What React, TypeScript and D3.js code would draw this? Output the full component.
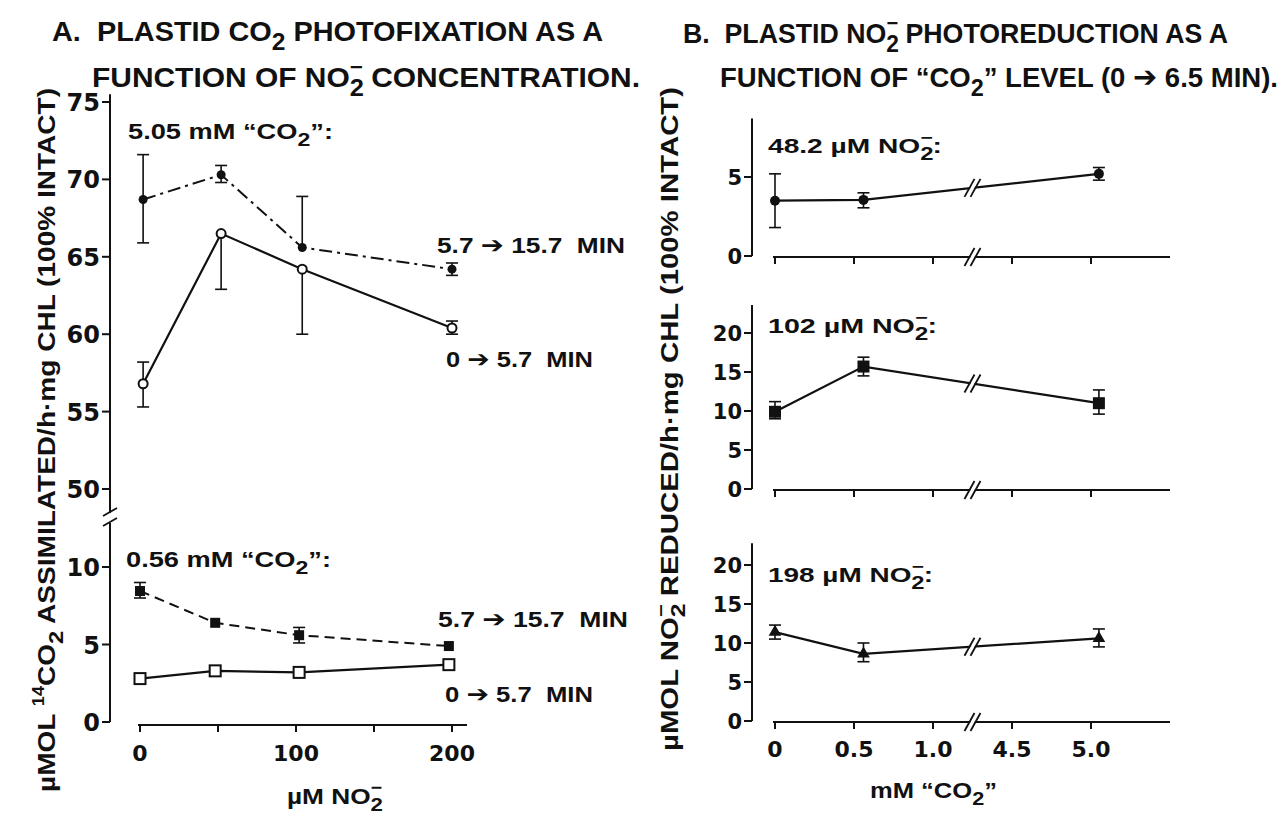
import * as d3 from "d3";

// ---------- Panel A: CO2 photofixation vs nitrite ----------
const nitriteHigh = [2, 52, 104, 200];
const nitriteLow = [0, 48.2, 102, 198];

// 5.05 mM "CO2"
const highLate = [68.7, 70.3, 65.6, 64.2]; // 5.7 -> 15.7 min
const highLateLo = [65.9, 69.8, null, 63.8];
const highLateHi = [71.6, 70.9, 68.9, 64.6];
const highEarly = [56.8, 66.5, 64.2, 60.4]; // 0 -> 5.7 min
const highEarlyLo = [55.3, 62.9, 60.0, 60.0];
const highEarlyHi = [58.2, null, null, 60.85];

// 0.56 mM "CO2"
const lowLate = [8.45, 6.4, 5.6, 4.9];
const lowLateLo = [8.0, null, 5.1, null];
const lowLateHi = [9.0, null, 6.1, null];
const lowEarly = [2.8, 3.3, 3.2, 3.7];

const aYTicksUpper = [50, 55, 60, 65, 70, 75];
const aYTicksLower = [0, 5, 10];
const aXTicks = [0, 50, 100, 150, 200];
const aXLabels = [0, 100, 200];

// ---------- Panel B: nitrite photoreduction vs "CO2" ----------
const co2mM = [0, 0.56, 5.05];
const no2_48 = [3.5, 3.55, 5.2];
const no2_48Lo = [1.8, 3.05, 4.8];
const no2_48Hi = [5.2, 4.0, 5.6];
const no2_102 = [9.9, 15.7, 11.0];
const no2_102Lo = [9.0, 14.5, 9.6];
const no2_102Hi = [11.2, 16.9, 12.7];
const no2_198 = [11.4, 8.6, 10.6];
const no2_198Lo = [10.5, 7.6, 9.5];
const no2_198Hi = [12.3, 10.0, 11.8];

const bXTicks = [0, 0.5, 1.0, 4.5, 5.0];
const bXLabels = ["0", "0.5", "1.0", "4.5", "5.0"];
const bYTicks1 = [0, 5];
const bYTicks = [0, 5, 10, 15, 20];

const FONT = "'Liberation Sans', Arial, Helvetica, sans-serif";
const NUMFONT = "'DejaVu Sans', sans-serif";

type Seg = { t: string; k?: "sub" | "sup" | "over" | "arrow" };

function Rich({ x, y, size, segs, anchor = "start", weight = "bold", len, rotate = 0 }: {
  x: number; y: number; size: number; segs: Seg[]; anchor?: string; weight?: string; len?: number; rotate?: number;
}) {
  let cur = 0;
  const kids = segs.map((s, i) => {
    let off = 0, fs = size, dx = 0;
    let fam: string | undefined;
    if (s.k === "sub") { off = 0.32 * size; fs = 0.85 * size; }
    else if (s.k === "sup") { off = -0.45 * size; fs = 0.65 * size; }
    else if (s.k === "over") { off = -0.48 * size; fs = 0.75 * size; dx = -0.47 * size; }
    else if (s.k === "arrow") { off = 0; fs = 1.05 * size; fam = NUMFONT; }
    const dy = off - cur;
    cur = off;
    return (
      <tspan key={i} dx={dx || undefined} dy={dy || undefined} fontSize={fs} fontFamily={fam}>{s.t}</tspan>
    );
  });
  return (
    <text
      transform={`translate(${x},${y}) rotate(${rotate})`}
      textAnchor={anchor}
      fontFamily={FONT}
      fontWeight={weight}
      fontSize={size}
      textLength={len}
      lengthAdjust="spacingAndGlyphs"
      style={{ whiteSpace: "pre" }}
      fill="#111"
    >
      {kids}
    </text>
  );
}

const CO2: Seg[] = [{ t: "CO" }, { t: "2", k: "sub" }];
const NO2m: Seg[] = [{ t: "NO" }, { t: "2", k: "sub" }, { t: "−", k: "over" }];
const timeLabel = (a: string, b: string): Seg[] => [{ t: a + " " }, { t: "➔", k: "arrow" }, { t: " " + b + "  MIN" }];

function ErrBars({ xs, lo, hi, mid, x, y }: any) {
  return (
    <g stroke="#111" strokeWidth={1.6}>
      {xs.map((xv: number, i: number) => {
        const px = x(xv);
        const out = [];
        if (lo[i] != null) {
          out.push(<line key={"l" + i} x1={px} x2={px} y1={y(mid[i])} y2={y(lo[i])} />);
          out.push(<line key={"lc" + i} x1={px - 6} x2={px + 6} y1={y(lo[i])} y2={y(lo[i])} />);
        }
        if (hi[i] != null) {
          out.push(<line key={"h" + i} x1={px} x2={px} y1={y(mid[i])} y2={y(hi[i])} />);
          out.push(<line key={"hc" + i} x1={px - 6} x2={px + 6} y1={y(hi[i])} y2={y(hi[i])} />);
        }
        return <g key={i}>{out}</g>;
      })}
    </g>
  );
}

function Slashes({ cx, cy, w = 5, h = 9, gap = 6 }: any) {
  return (
    <g>
      <polygon
        points={`${cx - gap / 2 - w + 1},${cy + h} ${cx - gap / 2 + w + 1},${cy - h} ${cx + gap / 2 + w - 1},${cy - h} ${cx + gap / 2 - w - 1},${cy + h}`}
        fill="white"
      />
      <line x1={cx - gap / 2 - w} y1={cy + h} x2={cx - gap / 2 + w} y2={cy - h} stroke="#111" strokeWidth={1.8} />
      <line x1={cx + gap / 2 - w} y1={cy + h} x2={cx + gap / 2 + w} y2={cy - h} stroke="#111" strokeWidth={1.8} />
    </g>
  );
}

function BPanel({ y, top, vals, lo, hi, ticks, marker, label, labelY, labelLen, xB, showX }: any) {
  const axB = 752;
  const pts = co2mM.map((c, i) => [xB(c), y(vals[i])] as [number, number]);
  const line = d3.line()(pts) as string;
  const xb = xB(1.25);
  const t = (xb - pts[1][0]) / (pts[2][0] - pts[1][0]);
  const yb = pts[1][1] + t * (pts[2][1] - pts[1][1]);
  const y0 = y(0);
  return (
    <g>
      <line x1={axB} x2={axB} y1={y(top)} y2={y0} stroke="#111" strokeWidth={2} />
      {ticks.map((v: number) => (
        <g key={v}>
          <line x1={axB - 8} x2={axB} y1={y(v)} y2={y(v)} stroke="#111" strokeWidth={2} />
          <text x={axB - 10} y={y(v) + 8} textAnchor="end" fontFamily={NUMFONT} fontWeight="bold" fontSize={21} fill="#111">{v}</text>
        </g>
      ))}
      <line x1={xB(0) - 2} x2={xB(5.5)} y1={y0 + 1} y2={y0 + 1} stroke="#111" strokeWidth={2} />
      {bXTicks.map((v) => (
        <line key={v} x1={xB(v)} x2={xB(v)} y1={y0 + 1} y2={y0 + 8} stroke="#111" strokeWidth={2} />
      ))}
      <Slashes cx={xb} cy={y0 + 1} />
      {showX && bXTicks.map((v, i) => (
        <text key={v} x={xB(v)} y={757} textAnchor="middle" fontFamily={NUMFONT} fontWeight="bold" fontSize={22} fill="#111">{bXLabels[i]}</text>
      ))}
      <path d={line} fill="none" stroke="#111" strokeWidth={2.2} />
      <Slashes cx={xb} cy={yb} />
      <ErrBars xs={co2mM} lo={lo} hi={hi} mid={vals} x={xB} y={y} />
      {pts.map(([px, py], i) => {
        if (marker === "circle") return <circle key={i} cx={px} cy={py} r={5} fill="#111" />;
        if (marker === "square") return <rect key={i} x={px - 6} y={py - 6} width={12} height={12} fill="#111" />;
        const tri = d3.symbol(d3.symbolTriangle, 70)() as string;
        return <path key={i} d={tri} transform={`translate(${px},${py})`} fill="#111" />;
      })}
      <Rich x={768} y={labelY} size={21} len={labelLen} weight="bold" segs={[{ t: label + " µM " }, ...NO2m, { t: ":" }]} />
    </g>
  );
}

export default function App() {
  const W = 1287, H = 816;
  const xA = d3.scaleLinear().domain([0, 200]).range([140, 452]);
  const yAU = d3.scaleLinear().domain([50, 75]).range([489, 102]);
  const yAL = d3.scaleLinear().domain([0, 10]).range([722, 567]);
  const axA = 110;

  const xB = d3.scaleLinear().domain([0, 1.25, 4.25, 5.5]).range([775, 972.5, 972.5, 1170]);
  const yB1 = d3.scaleLinear().domain([0, 5]).range([256, 177]);
  const yB2 = d3.scaleLinear().domain([0, 20]).range([489, 333]);
  const yB3 = d3.scaleLinear().domain([0, 20]).range([721, 565]);

  const ln = d3.line<number>();
  const path = (xs: number[], ys: number[], y: any) =>
    ln(xs.map((v, i) => [xA(v), y(ys[i])]) as any) as string;

  return (
    <svg width={W} height={H} viewBox={`0 0 ${W} ${H}`} style={{ position: "absolute", left: 0, top: 0, background: "white" }}>
      <rect width={W} height={H} fill="white" />

      {/* Titles */}
      <Rich x={52} y={41} size={28} len={551} segs={[{ t: "A.  PLASTID " }, ...CO2, { t: " PHOTOFIXATION AS A" }]} />
      <Rich x={92} y={87} size={28} len={548} segs={[{ t: "FUNCTION OF " }, ...NO2m, { t: " CONCENTRATION." }]} />
      <Rich x={683} y={43} size={28} len={545} segs={[{ t: "B.  PLASTID " }, ...NO2m, { t: " PHOTOREDUCTION AS A" }]} />
      <Rich x={720} y={87} size={28} len={558}
        segs={[{ t: "FUNCTION OF “" }, ...CO2, { t: "” LEVEL (0 " }, { t: "➔", k: "arrow" }, { t: " 6.5 MIN)." }]} />

      {/* Y labels */}
      <Rich x={55} y={440} size={24} len={704} rotate={-90} anchor="middle"
        segs={[{ t: "µMOL " }, { t: "14", k: "sup" }, ...CO2, { t: " ASSIMILATED/h·mg CHL (100% INTACT)" }]} />
      <Rich x={678} y={419} size={23} len={664} rotate={-90} anchor="middle"
        segs={[{ t: "µMOL " }, ...NO2m, { t: " REDUCED/h·mg CHL (100% INTACT)" }]} />

      {/* Panel A axes */}
      <line x1={axA} x2={axA} y1={yAU(75.5)} y2={513} stroke="#111" strokeWidth={2} />
      <line x1={axA} x2={axA} y1={523} y2={yAL(0)} stroke="#111" strokeWidth={2} />
      <line x1={103} y1={516} x2={117} y2={508} stroke="#111" strokeWidth={1.8} />
      <line x1={103} y1={526} x2={117} y2={518} stroke="#111" strokeWidth={1.8} />
      {aYTicksUpper.map((v) => (
        <g key={"u" + v}>
          <line x1={axA - 8} x2={axA} y1={yAU(v)} y2={yAU(v)} stroke="#111" strokeWidth={2} />
          <text x={axA - 10} y={yAU(v) + 9} textAnchor="end" fontFamily={NUMFONT} fontWeight="bold" fontSize={24} fill="#111">{v}</text>
        </g>
      ))}
      {aYTicksLower.map((v) => (
        <g key={"l" + v}>
          <line x1={axA - 8} x2={axA} y1={yAL(v)} y2={yAL(v)} stroke="#111" strokeWidth={2} />
          <text x={axA - 10} y={yAL(v) + 9} textAnchor="end" fontFamily={NUMFONT} fontWeight="bold" fontSize={24} fill="#111">{v}</text>
        </g>
      ))}
      <line x1={138} x2={467} y1={725} y2={725} stroke="#111" strokeWidth={2} />
      {aXTicks.map((v) => (
        <line key={v} x1={xA(v)} x2={xA(v)} y1={725} y2={732} stroke="#111" strokeWidth={2} />
      ))}
      {aXLabels.map((v) => (
        <text key={v} x={xA(v)} y={761} textAnchor="middle" fontFamily={NUMFONT} fontWeight="bold" fontSize={22} fill="#111">{v}</text>
      ))}
      <Rich x={287} y={804} size={22} len={96} segs={[{ t: "µM " }, ...NO2m]} />

      {/* Panel A upper: 5.05 mM */}
      <path d={path(nitriteHigh, highLate, yAU)} fill="none" stroke="#111" strokeWidth={2} strokeDasharray="13,5,3,5" />
      <path d={path(nitriteHigh, highEarly, yAU)} fill="none" stroke="#111" strokeWidth={2.2} />
      <ErrBars xs={nitriteHigh} lo={highLateLo} hi={highLateHi} mid={highLate} x={xA} y={yAU} />
      <ErrBars xs={nitriteHigh} lo={highEarlyLo} hi={highEarlyHi} mid={highEarly} x={xA} y={yAU} />
      {nitriteHigh.map((v, i) => (
        <circle key={"hl" + i} cx={xA(v)} cy={yAU(highLate[i])} r={4.5} fill="#111" />
      ))}
      {nitriteHigh.map((v, i) => (
        <circle key={"he" + i} cx={xA(v)} cy={yAU(highEarly[i])} r={4.5} fill="white" stroke="#111" strokeWidth={2} />
      ))}
      <Rich x={128} y={139} size={22} len={205} segs={[{ t: "5.05 mM “" }, ...CO2, { t: "”:" }]} />
      <Rich x={437} y={253} size={22} len={188} segs={timeLabel("5.7", "15.7")} />
      <Rich x={446} y={367} size={22} len={147} segs={timeLabel("0", "5.7")} />

      {/* Panel A lower: 0.56 mM */}
      <path d={path(nitriteLow, lowLate, yAL)} fill="none" stroke="#111" strokeWidth={2} strokeDasharray="10,6" />
      <path d={path(nitriteLow, lowEarly, yAL)} fill="none" stroke="#111" strokeWidth={2.2} />
      <ErrBars xs={nitriteLow} lo={lowLateLo} hi={lowLateHi} mid={lowLate} x={xA} y={yAL} />
      {nitriteLow.map((v, i) => (
        <rect key={"ll" + i} x={xA(v) - 5} y={yAL(lowLate[i]) - 5} width={10} height={10} fill="#111" />
      ))}
      {nitriteLow.map((v, i) => (
        <rect key={"le" + i} x={xA(v) - 5.5} y={yAL(lowEarly[i]) - 5.5} width={11} height={11} fill="white" stroke="#111" strokeWidth={2} />
      ))}
      <Rich x={126} y={567} size={22} len={205} segs={[{ t: "0.56 mM “" }, ...CO2, { t: "”:" }]} />
      <Rich x={438} y={627} size={22} len={190} segs={timeLabel("5.7", "15.7")} />
      <Rich x={445} y={702} size={22} len={148} segs={timeLabel("0", "5.7")} />

      {/* Panel B */}
      <BPanel y={yB1} top={8.7} vals={no2_48} lo={no2_48Lo} hi={no2_48Hi} ticks={bYTicks1} marker="circle" label="48.2" labelY={153} labelLen={174} xB={xB} />
      <BPanel y={yB2} top={23.6} vals={no2_102} lo={no2_102Lo} hi={no2_102Hi} ticks={bYTicks} marker="square" label="102" labelY={333} labelLen={169} xB={xB} />
      <BPanel y={yB3} top={22.8} vals={no2_198} lo={no2_198Lo} hi={no2_198Hi} ticks={bYTicks} marker="triangle" label="198" labelY={582} labelLen={165} xB={xB} showX />
      <Rich x={870} y={798} size={22} len={127} segs={[{ t: "mM “" }, ...CO2, { t: "”" }]} />
    </svg>
  );
}
